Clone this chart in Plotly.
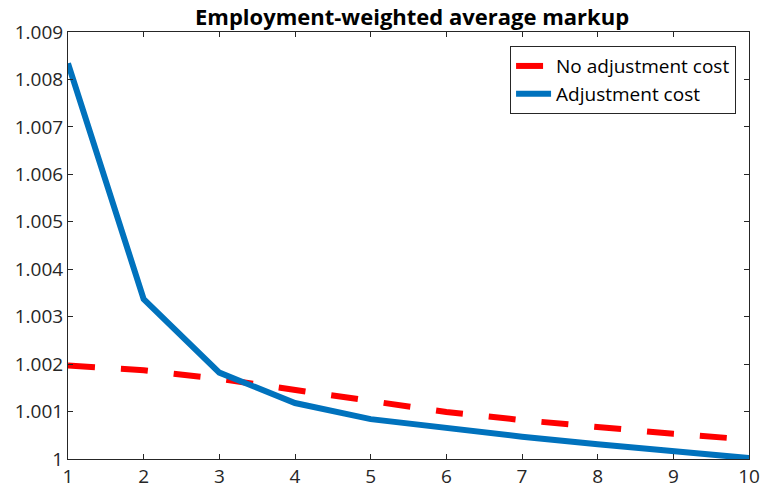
import plotly.graph_objects as go

periods = [1, 2, 3, 4, 5, 6, 7, 8, 9, 10]
no_adj_cost = [1.00197, 1.00187, 1.00169, 1.00146, 1.00123, 1.00099, 1.00082, 1.00067, 1.00053, 1.00041]
adj_cost = [1.00834, 1.00337, 1.00182, 1.00118, 1.00084, 1.00064, 1.00047, 1.00031, 1.00016, 1.00002]
y_ticks = [1, 1.001, 1.002, 1.003, 1.004, 1.005, 1.006, 1.007, 1.008, 1.009]
y_tick_labels = ["1", "1.001", "1.002", "1.003", "1.004", "1.005", "1.006", "1.007", "1.008", "1.009"]

FONT = "Open Sans"
AX = "#262626"

fig = go.Figure()
fig.add_trace(go.Scatter(x=periods, y=no_adj_cost, mode="lines", name="No adjustment cost",
                         line=dict(color="#ff0000", width=6, dash="27px,26px")))
fig.add_trace(go.Scatter(x=periods, y=adj_cost, mode="lines", name="Adjustment cost",
                         line=dict(color="#0072bd", width=6)))

axis_common = dict(showgrid=False, zeroline=False, showline=True, linecolor=AX, linewidth=1,
                   mirror="ticks", ticks="inside", ticklen=5, tickcolor=AX, automargin=False,
                   tickfont=dict(family=FONT, size=19, color=AX))

fig.update_layout(
    width=763, height=494,
    paper_bgcolor="white", plot_bgcolor="white",
    margin=dict(l=68, r=14, t=32, b=35),
    title=dict(text="<b>Employment-weighted average markup</b>", x=0.54, xref="container",
               xanchor="center", y=0.965, yref="container", yanchor="middle",
               font=dict(family=FONT, size=22, color="black")),
    xaxis=dict(range=[1, 10], tickvals=periods, ticktext=[str(p) for p in periods], **axis_common),
    yaxis=dict(range=[1, 1.009], tickvals=y_ticks, ticktext=y_tick_labels, **axis_common),
    legend=dict(x=0.981, y=0.967, xanchor="right", yanchor="top",
                bgcolor="white", bordercolor=AX, borderwidth=1,
                font=dict(family=FONT, size=19, color="black"),
                tracegroupgap=0, itemwidth=35),
    showlegend=True,
)

fig.write_html("out.html", config={"displayModeBar": False},
               post_script="document.body.style.margin='0';document.body.style.padding='0';")
